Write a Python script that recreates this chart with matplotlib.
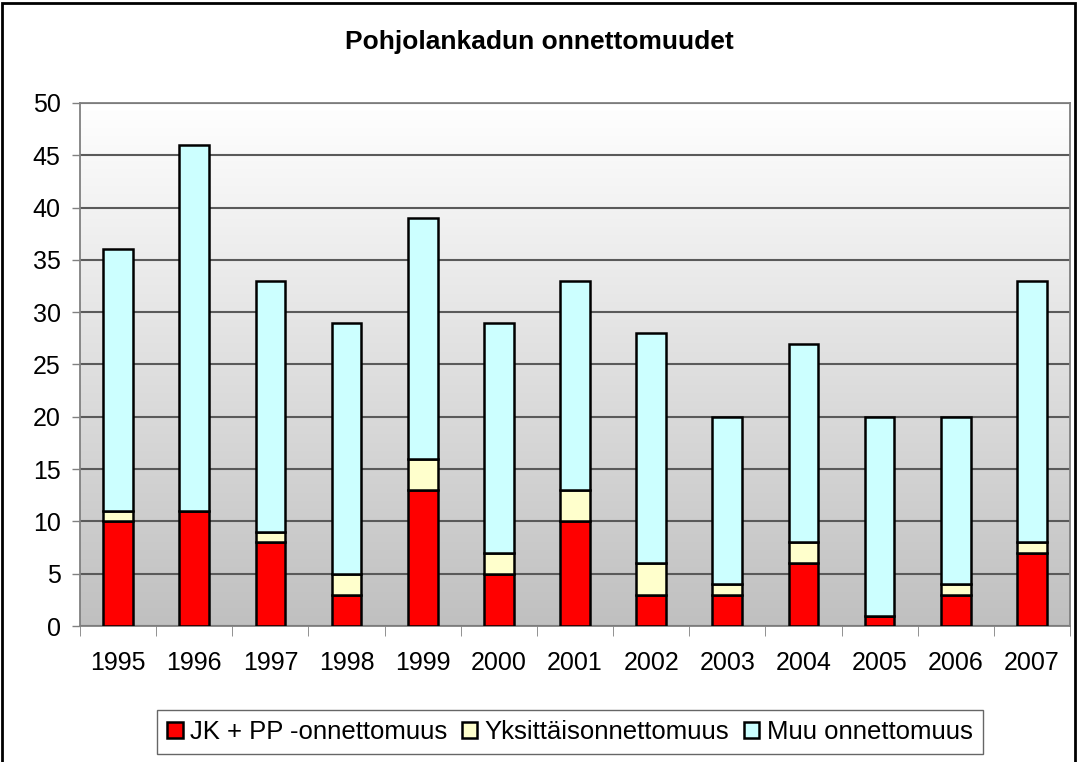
import numpy as np
import matplotlib.pyplot as plt
from matplotlib.colors import LinearSegmentedColormap
from matplotlib.patches import Rectangle

# -----------------------------
# DATA
# -----------------------------
years = ["1995", "1996", "1997", "1998", "1999", "2000", "2001",
         "2002", "2003", "2004", "2005", "2006", "2007"]
jk_pp = [10, 11, 8, 3, 13, 5, 10, 3, 3, 6, 1, 3, 7]
yksittais = [1, 0, 1, 2, 3, 2, 3, 3, 1, 2, 0, 1, 1]
muu = [25, 35, 24, 24, 23, 22, 20, 22, 16, 19, 19, 16, 25]
labels = ["JK + PP -onnettomuus", "Yksittäisonnettomuus", "Muu onnettomuus"]

plt.rcParams["font.family"] = ["Liberation Sans", "DejaVu Sans"]

W, H = 1078, 762
fig = plt.figure(figsize=(W / 100, H / 100), dpi=100)
ax = fig.add_axes([80 / W, 1 - 626 / H, (1070 - 80) / W, (626 - 103) / H])

# gradient background (white at top -> grey at bottom)
grad = np.linspace(1.0, 0.0, 256).reshape(-1, 1)
ax.imshow(grad, extent=[0, 1, 0, 1], transform=ax.transAxes, aspect="auto",
          cmap=LinearSegmentedColormap.from_list("bg", ["#c0c0c0", "#ffffff"]),
          zorder=0)

x = np.arange(len(years))
w = 0.39
bottom2 = np.array(jk_pp)
bottom3 = bottom2 + np.array(yksittais)
ax.bar(x, jk_pp, w, color="#ff0000", edgecolor="black", linewidth=1.8, zorder=3, label=labels[0])
ax.bar(x, yksittais, w, bottom=bottom2, color="#ffffcc", edgecolor="black", linewidth=1.8, zorder=3, label=labels[1])
ax.bar(x, muu, w, bottom=bottom3, color="#ccffff", edgecolor="black", linewidth=1.8, zorder=3, label=labels[2])

ax.set_xlim(-0.5, len(years) - 0.5)
ax.set_ylim(0, 50)
ax.set_yticks(range(0, 51, 5))
ax.set_xticks(x)
ax.set_xticklabels(years)
ax.yaxis.grid(True, color="#5a5a5a", linewidth=1.5, zorder=1)
ax.set_axisbelow(True)
ax.tick_params(axis="both", labelsize=18, color="#808080", length=6, width=1)
ax.tick_params(axis="y", pad=8)
ax.tick_params(axis="x", pad=18)
# x ticks between categories
ax.set_xticks(np.arange(-0.5, len(years)), minor=True)
ax.tick_params(axis="x", which="major", length=0)
ax.tick_params(axis="x", which="minor", length=7, color="#808080")

for s in ax.spines.values():
    s.set_color("#808080")
    s.set_linewidth(1.3)

fig.text(0.5, 1 - 42 / H, "Pohjolankadun onnettomuudet", ha="center", va="center",
         fontsize=19, fontweight="bold")

leg = fig.legend(loc="center", bbox_to_anchor=(570 / W, 1 - 732 / H), ncol=3,
                 fontsize=18.5, frameon=True, fancybox=False, handlelength=0.6,
                 handleheight=0.6, handletextpad=0.3, columnspacing=0.55,
                 borderpad=0.4, borderaxespad=0)
leg.get_frame().set_edgecolor("#404040")
leg.get_frame().set_linewidth(1)

# outer border
fig.patches.append(Rectangle((0.002, -0.01), 0.995, 1.006, transform=fig.transFigure,
                             fill=False, edgecolor="black", linewidth=2))

fig.savefig("out.png", dpi=100, facecolor="white")
